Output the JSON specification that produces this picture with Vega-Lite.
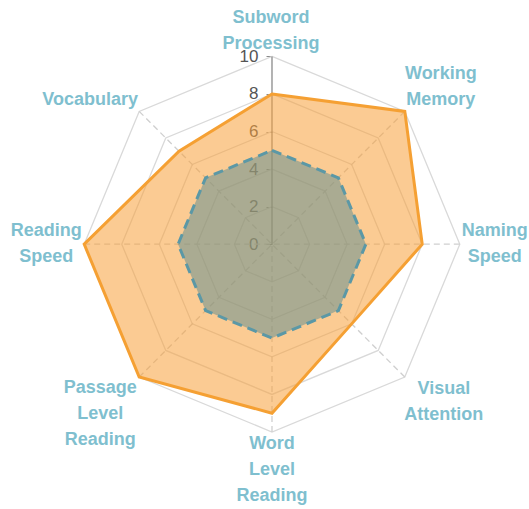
{
  "$schema": "https://vega.github.io/schema/vega-lite/v6.json",
  "width": 529,
  "height": 509,
  "padding": 0,
  "autosize": {"type": "none"},
  "background": "white",
  "config": {"view": {"stroke": null}},
  "datasets": {
    "skills": [
      {"axis": "Subword Processing", "order": 0, "student": 8, "average": 5},
      {"axis": "Working Memory", "order": 1, "student": 10, "average": 5},
      {"axis": "Naming Speed", "order": 2, "student": 8, "average": 5},
      {"axis": "Visual Attention", "order": 3, "student": 6, "average": 5},
      {"axis": "Word Level Reading", "order": 4, "student": 9, "average": 5},
      {"axis": "Passage Level Reading", "order": 5, "student": 10, "average": 5},
      {"axis": "Reading Speed", "order": 6, "student": 10, "average": 5},
      {"axis": "Vocabulary", "order": 7, "student": 7, "average": 5}
    ],
    "rings": [
      {"level": 2, "order": [0, 1, 2, 3, 4, 5, 6, 7]},
      {"level": 4, "order": [0, 1, 2, 3, 4, 5, 6, 7]},
      {"level": 6, "order": [0, 1, 2, 3, 4, 5, 6, 7]},
      {"level": 8, "order": [0, 1, 2, 3, 4, 5, 6, 7]},
      {"level": 10, "order": [0, 1, 2, 3, 4, 5, 6, 7]}
    ]
  },
  "encoding": {
    "x": {"field": "px", "type": "quantitative", "scale": {"domain": [-14.483, 13.685], "nice": false, "zero": false}, "axis": null},
    "y": {"field": "py", "type": "quantitative", "scale": {"domain": [-14.1, 13.003], "nice": false, "zero": false},
      "axis": {"values": [0, 2, 4, 6, 8, 10], "offset": -272, "domain": false, "grid": false, "ticks": true, "tickSize": 6, "tickColor": "#8a8a8a", "tickWidth": 1, "labelFontSize": 17, "labelColor": "#555555", "labelFont": "Liberation Sans", "labelPadding": 8, "title": null}}
  },
  "layer": [
    {
      "data": {"name": "rings"},
      "transform": [
        {"flatten": ["order"]},
        {"calculate": "datum.level * sin(datum.order * PI / 4)", "as": "px"},
        {"calculate": "datum.level * cos(datum.order * PI / 4)", "as": "py"}
      ],
      "mark": {"type": "line", "interpolate": "linear-closed", "stroke": "#d9d9d9", "strokeWidth": 1.3},
      "encoding": {
        "detail": {"field": "level", "type": "nominal"},
        "order": {"field": "order", "type": "quantitative"}
      }
    },
    {
      "data": {"name": "skills"},
      "transform": [
        {"filter": "datum.order > 0"},
        {"calculate": "10 * sin(datum.order * PI / 4)", "as": "px"},
        {"calculate": "10 * cos(datum.order * PI / 4)", "as": "py"}
      ],
      "mark": {"type": "rule", "stroke": "#cfcfcf", "strokeWidth": 1.3, "strokeDash": [6, 4]},
      "encoding": {
        "x2": {"datum": 0},
        "y2": {"datum": 0}
      }
    },
    {
      "data": {"name": "skills"},
      "transform": [
        {"filter": "datum.order == 0"},
        {"calculate": "0", "as": "px"},
        {"calculate": "10", "as": "py"}
      ],
      "mark": {"type": "rule", "stroke": "#8a8a8a", "strokeWidth": 1.3},
      "encoding": {
        "x2": {"datum": 0},
        "y2": {"datum": 0}
      }
    },
    {
      "data": {"name": "skills"},
      "transform": [
        {"calculate": "datum.student * sin(datum.order * PI / 4)", "as": "px"},
        {"calculate": "datum.student * cos(datum.order * PI / 4)", "as": "py"}
      ],
      "mark": {"type": "line", "interpolate": "linear-closed", "stroke": "#f5a033", "strokeWidth": 3, "fill": "#f7a13a", "fillOpacity": 0.55, "strokeJoin": "miter"},
      "encoding": {
        "order": {"field": "order", "type": "quantitative"}
      }
    },
    {
      "data": {"name": "skills"},
      "transform": [
        {"calculate": "datum.average * sin(datum.order * PI / 4)", "as": "px"},
        {"calculate": "datum.average * cos(datum.order * PI / 4)", "as": "py"}
      ],
      "mark": {"type": "line", "interpolate": "linear-closed", "stroke": "#5b98a6", "strokeWidth": 3, "strokeDash": [10, 6], "fill": "#5a8c91", "fillOpacity": 0.5},
      "encoding": {
        "order": {"field": "order", "type": "quantitative"}
      }
    },
    {
      "data": {"name": "skills"},
      "transform": [
        {"filter": "datum.order == 0"},
        {"calculate": "10 * sin(datum.order * PI / 4)", "as": "px"},
        {"calculate": "10 * cos(datum.order * PI / 4)", "as": "py"}
      ],
      "mark": {"type": "text", "align": "center", "baseline": "middle", "lineBreak": " ", "lineHeight": 26, "font": "Liberation Sans", "fontSize": 18, "fontWeight": "bold", "color": "#7fbfcf", "dx": -1, "dy": -38},
      "encoding": {"text": {"field": "axis"}}
    },
    {
      "data": {"name": "skills"},
      "transform": [
        {"filter": "datum.order == 1"},
        {"calculate": "10 * sin(datum.order * PI / 4)", "as": "px"},
        {"calculate": "10 * cos(datum.order * PI / 4)", "as": "py"}
      ],
      "mark": {"type": "text", "align": "center", "baseline": "middle", "lineBreak": " ", "lineHeight": 26, "font": "Liberation Sans", "fontSize": 18, "fontWeight": "bold", "color": "#7fbfcf", "dx": 36, "dy": -37},
      "encoding": {"text": {"field": "axis"}}
    },
    {
      "data": {"name": "skills"},
      "transform": [
        {"filter": "datum.order == 2"},
        {"calculate": "10 * sin(datum.order * PI / 4)", "as": "px"},
        {"calculate": "10 * cos(datum.order * PI / 4)", "as": "py"}
      ],
      "mark": {"type": "text", "align": "center", "baseline": "middle", "lineBreak": " ", "lineHeight": 26, "font": "Liberation Sans", "fontSize": 18, "fontWeight": "bold", "color": "#7fbfcf", "dx": 35, "dy": -13},
      "encoding": {"text": {"field": "axis"}}
    },
    {
      "data": {"name": "skills"},
      "transform": [
        {"filter": "datum.order == 3"},
        {"calculate": "10 * sin(datum.order * PI / 4)", "as": "px"},
        {"calculate": "10 * cos(datum.order * PI / 4)", "as": "py"}
      ],
      "mark": {"type": "text", "align": "center", "baseline": "middle", "lineBreak": " ", "lineHeight": 26, "font": "Liberation Sans", "fontSize": 18, "fontWeight": "bold", "color": "#7fbfcf", "dx": 39, "dy": 12},
      "encoding": {"text": {"field": "axis"}}
    },
    {
      "data": {"name": "skills"},
      "transform": [
        {"filter": "datum.order == 4"},
        {"calculate": "10 * sin(datum.order * PI / 4)", "as": "px"},
        {"calculate": "10 * cos(datum.order * PI / 4)", "as": "py"}
      ],
      "mark": {"type": "text", "align": "center", "baseline": "middle", "lineBreak": " ", "lineHeight": 26, "font": "Liberation Sans", "fontSize": 18, "fontWeight": "bold", "color": "#7fbfcf", "dx": 0, "dy": 12},
      "encoding": {"text": {"field": "axis"}}
    },
    {
      "data": {"name": "skills"},
      "transform": [
        {"filter": "datum.order == 5"},
        {"calculate": "10 * sin(datum.order * PI / 4)", "as": "px"},
        {"calculate": "10 * cos(datum.order * PI / 4)", "as": "py"}
      ],
      "mark": {"type": "text", "align": "center", "baseline": "middle", "lineBreak": " ", "lineHeight": 26, "font": "Liberation Sans", "fontSize": 18, "fontWeight": "bold", "color": "#7fbfcf", "dx": -39, "dy": 11},
      "encoding": {"text": {"field": "axis"}}
    },
    {
      "data": {"name": "skills"},
      "transform": [
        {"filter": "datum.order == 6"},
        {"calculate": "10 * sin(datum.order * PI / 4)", "as": "px"},
        {"calculate": "10 * cos(datum.order * PI / 4)", "as": "py"}
      ],
      "mark": {"type": "text", "align": "center", "baseline": "middle", "lineBreak": " ", "lineHeight": 26, "font": "Liberation Sans", "fontSize": 18, "fontWeight": "bold", "color": "#7fbfcf", "dx": -38, "dy": -13},
      "encoding": {"text": {"field": "axis"}}
    },
    {
      "data": {"name": "skills"},
      "transform": [
        {"filter": "datum.order == 7"},
        {"calculate": "10 * sin(datum.order * PI / 4)", "as": "px"},
        {"calculate": "10 * cos(datum.order * PI / 4)", "as": "py"}
      ],
      "mark": {"type": "text", "align": "center", "baseline": "middle", "lineBreak": " ", "lineHeight": 26, "font": "Liberation Sans", "fontSize": 18, "fontWeight": "bold", "color": "#7fbfcf", "dx": -49, "dy": -11},
      "encoding": {"text": {"field": "axis"}}
    }
  ]
}
